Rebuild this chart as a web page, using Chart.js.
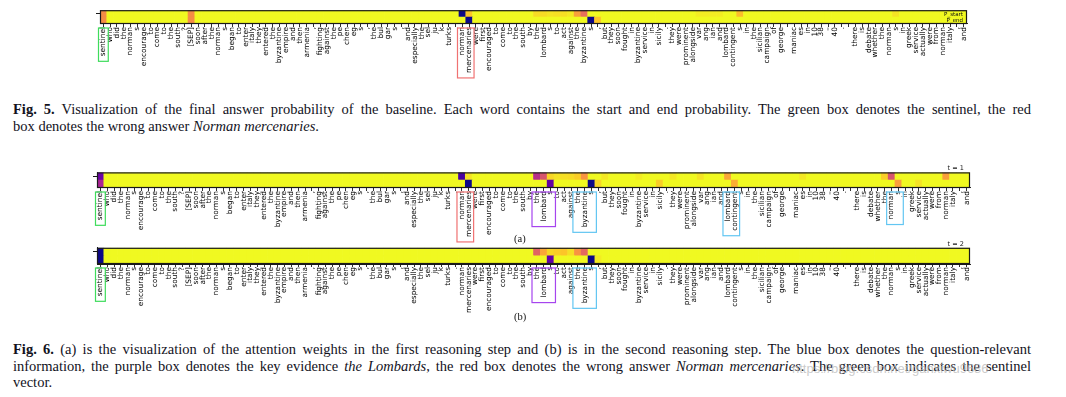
<!DOCTYPE html>
<html>
<head>
<meta charset="utf-8">
<script src="https://cdn.jsdelivr.net/npm/chart.js@4.4.1/dist/chart.umd.min.js"></script>
<style>
  body { margin: 0; background: #fff; width: 1066px; height: 397px; position: relative; overflow: hidden; }
  canvas { position: absolute; left: 0; }
  .cap { position: absolute; left: 13px; width: 1018px; font-family: 'Liberation Serif', serif; font-size: 14.5px; color: #12121c; line-height: 16.5px; }
  .cap .j { text-align: justify; text-align-last: justify; white-space: nowrap; }
  .sub { position: absolute; left: 514px; font-family: 'Liberation Serif', serif; font-size: 10.5px; color: #111; }
  .wm { position: absolute; left: 792px; top: 361px; font-family: 'Liberation Sans', sans-serif; font-size: 13px; color: rgba(185,185,185,0.75); }
</style>
</head>
<body>
<canvas id="fig5" width="1066" height="96" style="top:0px"></canvas>
<canvas id="fig6a" width="1066" height="86" style="top:160px"></canvas>
<canvas id="fig6b" width="1066" height="88" style="top:236px"></canvas>

<div class="cap" style="top:101px">
  <div class="j"><b>Fig. 5.</b> Visualization of the final answer probability of the baseline. Each word contains the start and end probability. The green box denotes the sentinel, the red</div>
  <div>box denotes the wrong answer <i>Norman mercenaries</i>.</div>
</div>
<div class="sub" style="top:233px">(a)</div>
<div class="sub" style="top:311px">(b)</div>
<div class="cap" style="top:341px">
  <div class="j"><b>Fig. 6.</b> (a) is the visualization of the attention weights in the first reasoning step and (b) is in the second reasoning step. The blue box denotes the question-relevant</div>
  <div class="j">information, the purple box denotes the key evidence <i>the Lombards</i>, the red box denotes the wrong answer <i>Norman mercenaries</i>. The green box indicates the sentinel</div>
  <div>vector.</div>
</div>
<div class="wm">https://blog.csdn.net/ganxiwu9686</div>

<script>
const tokens = [
  'sentinel', 'who', 'did', 'the', 'norman', 's', 'encourage', 'to', 'come', 'to',
  'the', 'south', '?', '[SEP]', 'soon', 'after', 'the', 'norman', 's', 'began',
  'to', 'enter', 'italy', 'they', 'entered', 'the', 'byzantine', 'empire', 'and', 'then',
  'armenia', ',', 'fighting', 'against', 'the', 'pe', 'chen', 'eg', 's', ',',
  'the', 'bul', 'gar', 's', ',', 'and', 'especially', 'the', 'sel', 'ju',
  'k', 'turks', '.', 'norman', 'mercenaries', 'were', 'first', 'encouraged', 'to', 'come',
  'to', 'the', 'south', 'by', 'the', 'lombard', 's', 'to', 'act', 'against',
  'the', 'byzantine', 's', ',', 'but', 'they', 'soon', 'fought', 'in', 'byzantine',
  'service', 'in', 'sicily', '.', 'they', 'were', 'prominent', 'alongside', 'var', 'ang',
  'ian', 'and', 'lombard', 'contingent', 's', 'in', 'the', 'sicilian', 'campaign', 'of',
  'george', '', 'maniac', 'es', 'in', '10', '38', '–', '40', '.',
  '', 'there', 'is', 'debate', 'whether', 'the', 'norman', 's', 'in', 'greek',
  'service', 'actually', 'were', 'from', 'norman', 'italy', ',', 'and'
];

// Fig. 5: baseline start / end probability per word
const baseStart = [
  0.27, 0, 0, 0, 0, 0, 0, 0, 0, 0,
  0, 0, 0, 0.27, 0, 0, 0, 0, 0, 0,
  0, 0, 0, 0, 0, 0, 0, 0, 0, 0,
  0, 0, 0, 0, 0, 0, 0, 0, 0, 0,
  0, 0, 0, 0, 0, 0, 0, 0, 0, 0,
  0, 0, 0, 1.0, 0.12, 0, 0, 0, 0, 0,
  0, 0, 0, 0, 0.07, 0.07, 0.05, 0.06, 0.06, 0.04,
  0.22, 0.36, 0, 0, 0, 0, 0, 0, 0, 0,
  0, 0, 0, 0, 0, 0, 0, 0, 0.03, 0.03,
  0.03, 0.03, 0, 0, 0.14, 0, 0, 0, 0, 0,
  0, 0, 0, 0, 0, 0, 0, 0, 0, 0,
  0, 0, 0, 0, 0, 0, 0, 0.05, 0, 0,
  0, 0, 0, 0, 0, 0, 0, 0
];
const baseEnd = [
  0.27, 0, 0, 0, 0, 0, 0, 0, 0, 0,
  0, 0, 0, 0.27, 0, 0, 0, 0, 0, 0,
  0, 0, 0, 0, 0, 0, 0, 0, 0, 0,
  0, 0, 0, 0, 0, 0, 0, 0, 0, 0,
  0, 0, 0, 0, 0, 0, 0, 0, 0, 0,
  0, 0, 0, 0, 1.0, 0, 0, 0, 0, 0,
  0, 0, 0, 0, 0, 0, 0, 0, 0, 0,
  0, 0, 1.0, 0.12, 0, 0, 0, 0, 0, 0,
  0, 0, 0, 0, 0, 0, 0, 0, 0, 0,
  0, 0, 0, 0, 0, 0, 0, 0, 0, 0,
  0, 0, 0, 0, 0, 0, 0, 0, 0, 0,
  0, 0, 0, 0, 0, 0, 0, 0, 0, 0,
  0, 0, 0, 0, 0, 0, 0, 0
];

// Fig. 6 (a): attention weights, first reasoning step (t = 1)
const step1Top = [
  0.8, 0, 0, 0, 0, 0, 0, 0, 0, 0,
  0, 0, 0, 0, 0, 0, 0, 0, 0, 0,
  0, 0, 0, 0, 0, 0, 0, 0, 0, 0,
  0, 0, 0, 0, 0, 0, 0, 0, 0, 0,
  0, 0, 0, 0, 0, 0, 0, 0, 0, 0,
  0, 0, 0, 0.88, 0.05, 0, 0, 0, 0, 0,
  0, 0, 0, 0, 0.58, 0.45, 0.08, 0.05, 0.06, 0.07,
  0.1, 0.25, 0, 0, 0.04, 0, 0, 0, 0, 0.03,
  0, 0, 0, 0, 0.04, 0, 0, 0, 0.05, 0,
  0, 0, 0.2, 0, 0, 0, 0, 0, 0, 0,
  0, 0, 0, 0.04, 0, 0, 0, 0, 0, 0,
  0, 0, 0, 0, 0, 0.1, 0.45, 0, 0, 0,
  0, 0, 0, 0, 0.22, 0, 0, 0
];
const step1Bottom = [
  0.62, 0, 0, 0, 0, 0, 0, 0, 0, 0,
  0, 0, 0, 0, 0, 0, 0, 0, 0, 0,
  0, 0, 0, 0, 0, 0, 0, 0, 0, 0,
  0, 0, 0, 0, 0, 0, 0, 0, 0, 0,
  0, 0, 0, 0, 0, 0, 0, 0, 0, 0,
  0, 0, 0, 0, 1.0, 0, 0, 0, 0, 0,
  0, 0, 0, 0, 0, 0, 0.82, 0, 0, 0,
  0, 0, 1.0, 0.08, 0, 0, 0, 0, 0, 0,
  0, 0, 0.1, 0, 0, 0, 0, 0, 0, 0,
  0, 0, 0, 0.18, 0, 0, 0, 0, 0, 0,
  0, 0, 0, 0, 0, 0, 0, 0, 0, 0,
  0, 0, 0, 0, 0, 0, 0, 0.22, 0, 0,
  0.05, 0, 0, 0, 0, 0, 0, 0
];

// Fig. 6 (b): attention weights, second reasoning step (t = 2)
const step2Top = [
  1.0, 0, 0, 0, 0, 0, 0, 0, 0, 0,
  0, 0, 0, 0, 0, 0, 0, 0, 0, 0,
  0, 0, 0, 0, 0, 0, 0, 0, 0, 0,
  0, 0, 0, 0, 0, 0, 0, 0, 0, 0,
  0, 0, 0, 0, 0, 0, 0, 0, 0, 0,
  0, 0, 0, 0, 0, 0, 0, 0, 0, 0,
  0, 0, 0, 0, 0.4, 0.2, 0.08, 0.1, 0.12, 0.06,
  0.25, 0.38, 0, 0, 0, 0, 0, 0, 0, 0,
  0, 0, 0, 0, 0, 0, 0, 0, 0, 0,
  0, 0, 0, 0, 0, 0, 0, 0, 0, 0,
  0, 0, 0, 0, 0, 0, 0, 0, 0, 0,
  0, 0, 0, 0, 0, 0, 0, 0, 0, 0,
  0, 0, 0, 0, 0, 0, 0, 0
];
const step2Bottom = [
  1.0, 0, 0, 0, 0, 0, 0, 0, 0, 0,
  0, 0, 0, 0, 0, 0, 0, 0, 0, 0,
  0, 0, 0, 0, 0, 0, 0, 0, 0, 0,
  0, 0, 0, 0, 0, 0, 0, 0, 0, 0,
  0, 0, 0, 0, 0, 0, 0, 0, 0, 0,
  0, 0, 0, 0, 0, 0, 0, 0, 0, 0,
  0, 0, 0, 0, 0, 0, 0.82, 0, 0, 0,
  0, 0, 1.0, 0.03, 0, 0, 0, 0, 0, 0,
  0, 0, 0, 0, 0, 0, 0, 0, 0, 0,
  0, 0, 0, 0, 0, 0, 0, 0, 0, 0,
  0, 0, 0, 0, 0, 0, 0, 0, 0, 0,
  0, 0, 0, 0, 0, 0, 0, 0, 0, 0,
  0, 0, 0, 0, 0, 0, 0, 0
];

// plasma colormap, high value = dark
const plasma = ['#0d0887', '#4c02a1', '#7e03a8', '#a92395', '#cc4778', '#e56b5d', '#f89441', '#fdc328', '#f0f921'];

function rgb(hex) {
  return [1, 3, 5].map(i => parseInt(hex.substr(i, 2), 16));
}

function cellColor(v) {
  const t = (1 - Math.max(0, Math.min(1, v))) * 8;
  const i = Math.min(7, Math.floor(t));
  const f = t - i;
  const a = rgb(plasma[i]), b = rgb(plasma[i + 1]);
  const c = a.map((x, k) => Math.round(x + (b[k] - x) * f));
  return 'rgb(' + c.join(',') + ')';
}

const labelFont = {family: 'DejaVu Sans', size: 7.4};

const framePlugin = {
  id: 'frame',
  afterDraw(chart, args, opts) {
    const {ctx, chartArea: a, scales: {x}} = chart;
    ctx.save();
    ctx.strokeStyle = '#1a1a1a';
    ctx.lineWidth = 1.2;
    ctx.strokeRect(a.left + 0.5, a.top + 0.5, a.right - a.left - 1, a.bottom - a.top - 1);

    // coloured boxes around label groups
    const step = x.getPixelForValue(1) - x.getPixelForValue(0);
    ctx.font = labelFont.size + 'px "' + labelFont.family + '"';
    (opts.boxes || []).forEach(b => {
      let w = 0;
      for (let i = b.from; i <= b.to; i++) {
        w = Math.max(w, ctx.measureText(tokens[i]).width);
      }
      const x0 = x.getPixelForValue(b.from) - step / 2 - 1.5;
      const x1 = x.getPixelForValue(b.to) + step / 2 + 1.5;
      ctx.strokeStyle = b.color;
      ctx.lineWidth = 1.2;
      ctx.strokeRect(x0, a.bottom + 4, x1 - x0, w + 4);
    });

    if (opts.legend) {
      ctx.fillStyle = '#111';
      ctx.font = '5.5px "DejaVu Sans"';
      ctx.textAlign = 'right';
      ctx.textBaseline = 'middle';
      const mid = (a.top + a.bottom) / 2;
      ctx.fillText(opts.legend[0], a.right - 4, mid - 3);
      ctx.fillText(opts.legend[1], a.right - 4, mid + 3);
    }
    ctx.restore();
  }
};

function makeStrip(id, top, bottom, cfg) {
  return new Chart(document.getElementById(id), {
    type: 'bar',
    data: {
      labels: tokens,
      datasets: [
        {data: tokens.map(() => 1), backgroundColor: bottom.map(cellColor)},
        {data: tokens.map(() => 1), backgroundColor: top.map(cellColor)}
      ]
    },
    options: {
      responsive: false,
      animation: false,
      layout: {padding: {top: cfg.padTop, right: cfg.right, left: 0, bottom: 0}},
      datasets: {bar: {barPercentage: 1, categoryPercentage: 1, borderWidth: 0}},
      scales: {
        x: {
          stacked: true,
          afterFit: s => { s.height = cfg.axisHeight; },
          grid: {offset: false, drawOnChartArea: false, tickLength: 3, color: '#1a1a1a', lineWidth: 0.9},
          border: {color: '#1a1a1a'},
          ticks: {autoSkip: false, maxRotation: 90, minRotation: 90, padding: 0, font: labelFont, color: '#000'}
        },
        y: {
          stacked: true,
          min: 0,
          max: 2,
          afterFit: s => { s.width = cfg.left; },
          afterBuildTicks: s => { s.ticks = [{value: 1.5}]; },
          grid: {drawOnChartArea: false, tickLength: 4, color: '#1a1a1a'},
          border: {color: '#1a1a1a'},
          ticks: {callback: () => ''}
        }
      },
      plugins: {
        legend: {display: false},
        tooltip: {enabled: false},
        title: {
          display: !!cfg.title,
          text: cfg.title,
          align: 'end',
          fullSize: false,
          color: '#111',
          font: {family: 'DejaVu Sans', size: 6.5, weight: 'normal'},
          padding: {top: 0, bottom: 0}
        },
        frame: {boxes: cfg.boxes, legend: cfg.legend}
      }
    },
    plugins: [framePlugin]
  });
}

makeStrip('fig5', baseStart, baseEnd, {
  padTop: 10, left: 100, right: 99, axisHeight: 72,
  legend: ['P_start', 'P_end'],
  boxes: [{from: 0, to: 0, color: '#3fdc5c'}, {from: 53, to: 54, color: '#f07272'}]
});

makeStrip('fig6a', step1Top, step1Bottom, {
  padTop: 4.6, left: 97, right: 96, axisHeight: 58, title: 't = 1   ',
  boxes: [
    {from: 0, to: 0, color: '#3fdc5c'}, {from: 53, to: 54, color: '#f07272'},
    {from: 64, to: 66, color: '#a645ee'}, {from: 70, to: 72, color: '#62c6f2'},
    {from: 92, to: 93, color: '#62c6f2'}, {from: 116, to: 117, color: '#62c6f2'}
  ]
});

makeStrip('fig6b', step2Top, step2Bottom, {
  padTop: 4, left: 97, right: 96, axisHeight: 60, title: 't = 2   ',
  boxes: [
    {from: 0, to: 0, color: '#3fdc5c'},
    {from: 64, to: 66, color: '#a645ee'}, {from: 70, to: 72, color: '#62c6f2'}
  ]
});
</script>
</body>
</html>
